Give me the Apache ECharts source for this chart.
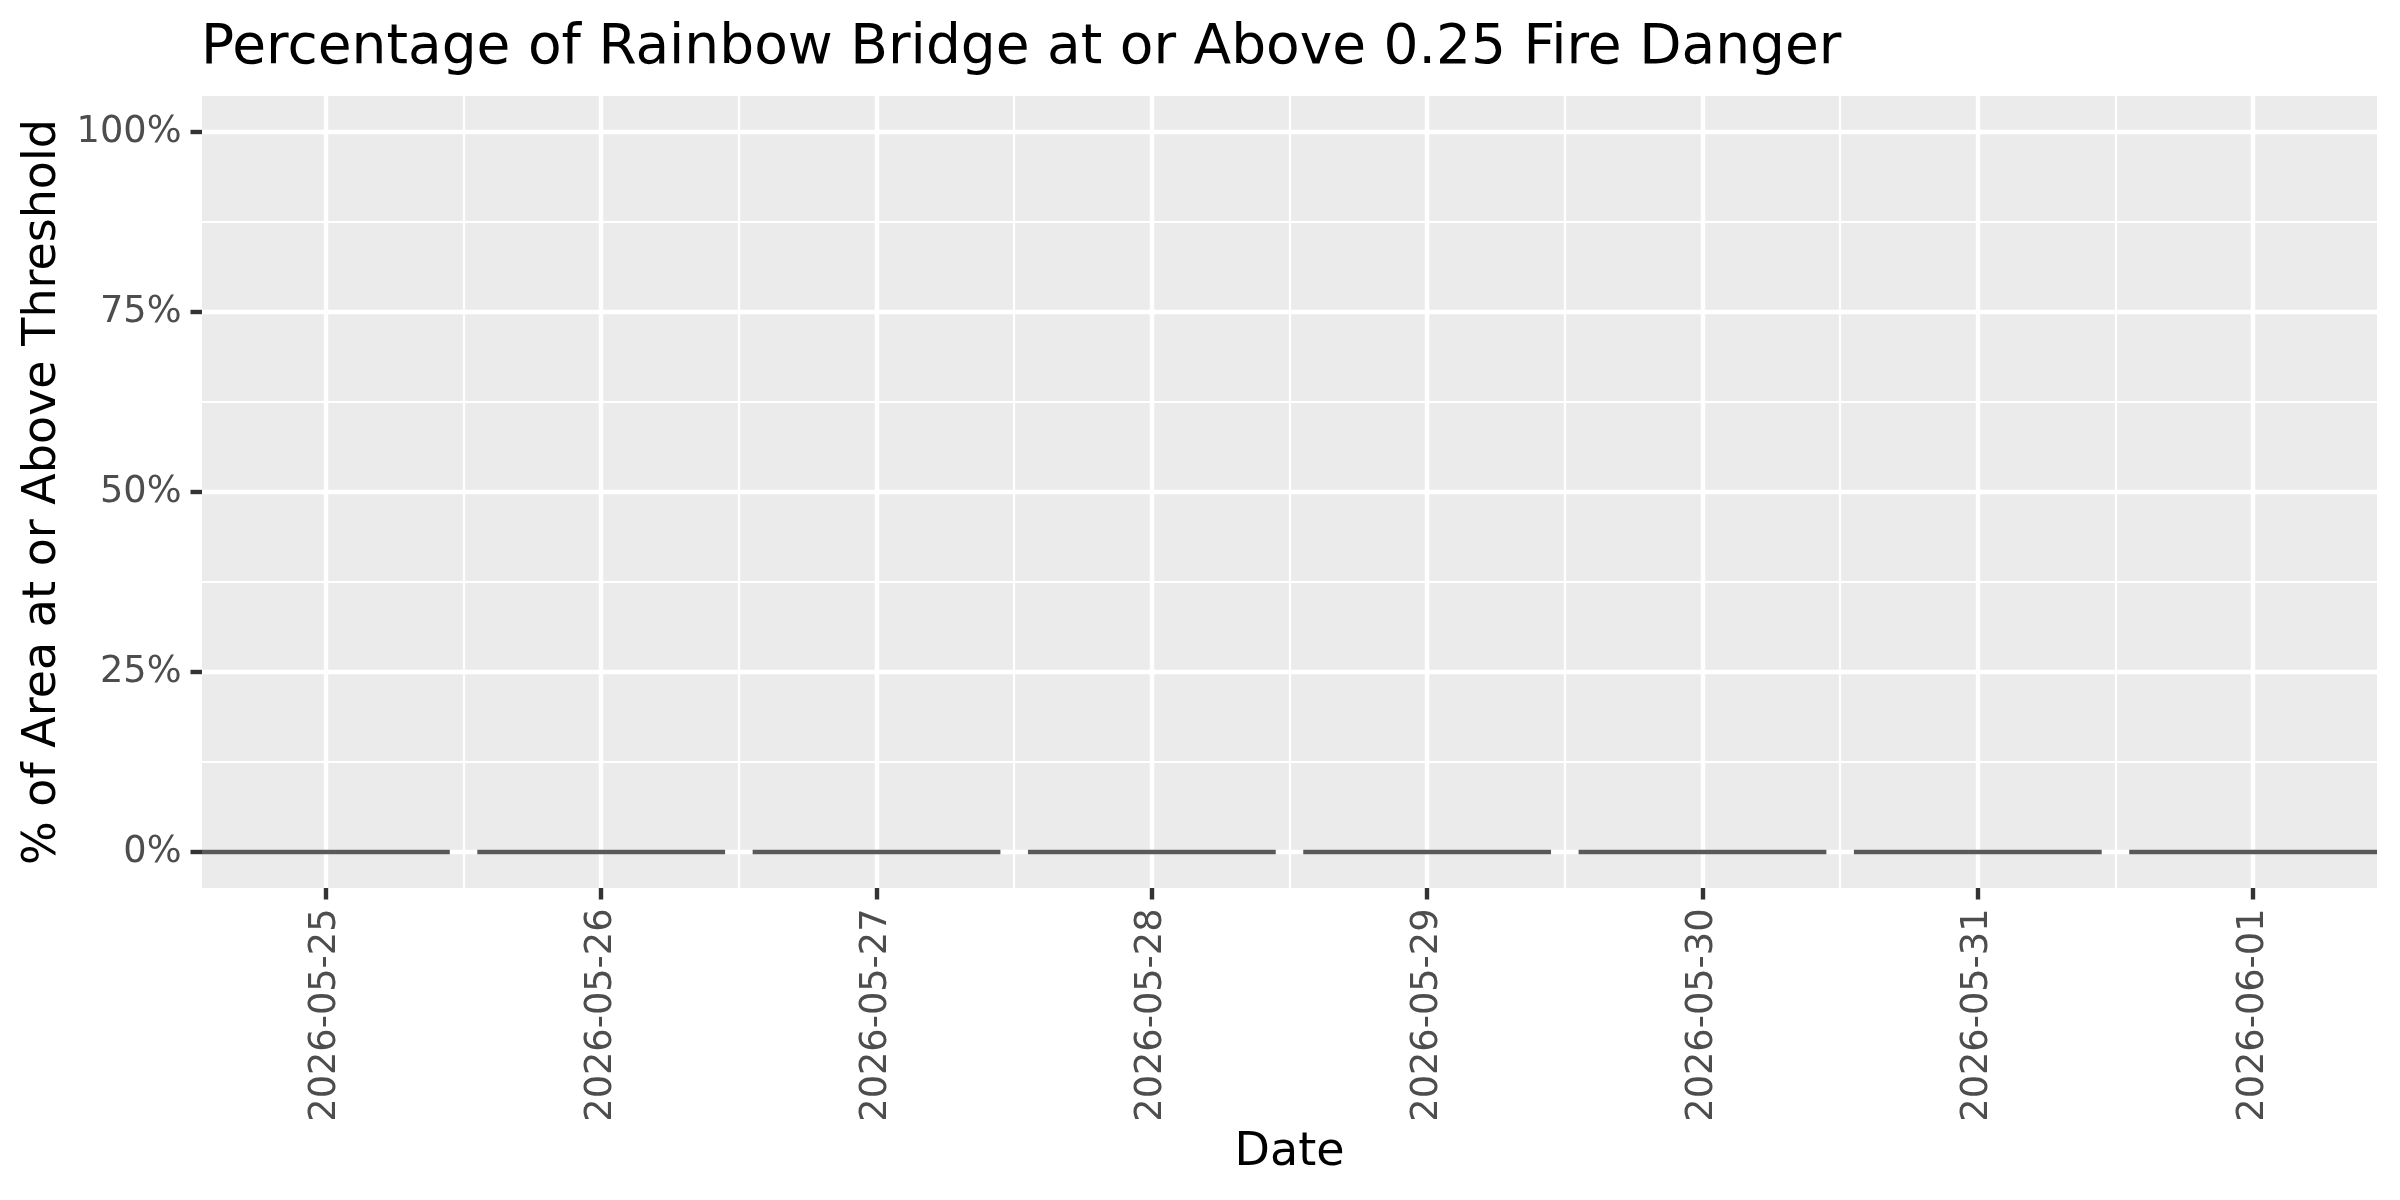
<!DOCTYPE html>
<html>
<head>
<meta charset="utf-8">
<title>Rainbow Bridge fire danger</title>
<script src="https://cdn.jsdelivr.net/npm/echarts@6/dist/echarts.min.js"></script>
<style>
  html, body { margin: 0; padding: 0; background: #fff; }
  #chart { width: 2400px; height: 1200px; }
</style>
</head>
<body>
<div id="chart"></div>
<script>
// data
var dates = ['2026-05-25', '2026-05-26', '2026-05-27', '2026-05-28', '2026-05-29', '2026-05-30', '2026-05-31', '2026-06-01'];
var pctAbove = [0, 0, 0, 0, 0, 0, 0, 0]; // % of area at or above 0.25
var yTicks = [0, 25, 50, 75, 100];
var yMinorTicks = [12.5, 37.5, 62.5, 87.5];
var xTicks = [0, 1, 2, 3, 4, 5, 6, 7];
var xMinorTicks = [0.5, 1.5, 2.5, 3.5, 4.5, 5.5, 6.5];

var FONT = 'DejaVu Sans';

// bar data on a value x axis (index of the date)
var barData = pctAbove.map(function (v, i) { return [i, v]; });

var chart = echarts.init(document.getElementById('chart'));

var option = {
  backgroundColor: '#ffffff',
  animation: false,
  title: {
    text: 'Percentage of Rainbow Bridge at or Above 0.25 Fire Danger',
    left: 201,
    top: 21,
    padding: 0,
    textStyle: { fontFamily: FONT, fontSize: 55, fontWeight: 'normal', color: '#000000' }
  },
  grid: {
    left: 202,
    right: 23,
    top: 96,
    height: 792,
    show: true,
    backgroundColor: '#EBEBEB',
    borderWidth: 0
  },
  xAxis: [{
    type: 'value',
    min: -0.45,
    max: 7.45,
    name: 'Date',
    nameLocation: 'middle',
    nameGap: 210,
    nameTextStyle: { fontFamily: FONT, fontSize: 46, color: '#000000' },
    axisLine: { show: false, onZero: false },
    axisTick: {
      show: true,
      customValues: xTicks,
      length: 11.5,
      lineStyle: { color: '#333333', width: 4.4 }
    },
    axisLabel: {
      customValues: xTicks,
      rotate: 90,
      margin: 20.5,
      fontFamily: FONT,
      fontSize: 36.7,
      color: '#4D4D4D',
      formatter: function (v) { return dates[Math.round(v)]; }
    },
    splitLine: { show: true, lineStyle: { color: '#ffffff', width: 4.4 } }
  }, {
    // minor vertical grid lines
    type: 'value',
    min: -0.45,
    max: 7.45,
    position: 'bottom',
    axisLine: { show: false, onZero: false },
    axisTick: { show: false, customValues: xMinorTicks },
    axisLabel: { show: false, customValues: xMinorTicks },
    splitLine: { show: true, lineStyle: { color: '#ffffff', width: 2.2 } }
  }],
  yAxis: [{
    type: 'value',
    min: -5,
    max: 105,
    name: '% of Area at or Above Threshold',
    nameLocation: 'middle',
    nameRotate: 90,
    nameGap: 130,
    nameTextStyle: { fontFamily: FONT, fontSize: 46, color: '#000000' },
    axisLine: { show: false, onZero: false },
    axisTick: {
      show: true,
      customValues: yTicks,
      length: 11.5,
      lineStyle: { color: '#333333', width: 4.4 }
    },
    axisLabel: {
      customValues: yTicks,
      margin: 20.5,
      fontFamily: FONT,
      fontSize: 36.7,
      color: '#4D4D4D',
      formatter: function (v) { return v + '%'; }
    },
    splitLine: { show: true, lineStyle: { color: '#ffffff', width: 4.4 } }
  }, {
    // minor horizontal grid lines
    type: 'value',
    min: -5,
    max: 105,
    position: 'left',
    axisLine: { show: false, onZero: false },
    axisTick: { show: false, customValues: yMinorTicks },
    axisLabel: { show: false, customValues: yMinorTicks },
    splitLine: { show: true, lineStyle: { color: '#ffffff', width: 2.2 } }
  }],
  series: [{
    name: 'pct',
    type: 'bar',
    xAxisIndex: 0,
    yAxisIndex: 0,
    barWidth: '90%',
    data: barData,
    itemStyle: { color: '#595959', borderColor: '#595959', borderWidth: 4.4 }
  }]
};

chart.setOption(option);
</script>
</body>
</html>
